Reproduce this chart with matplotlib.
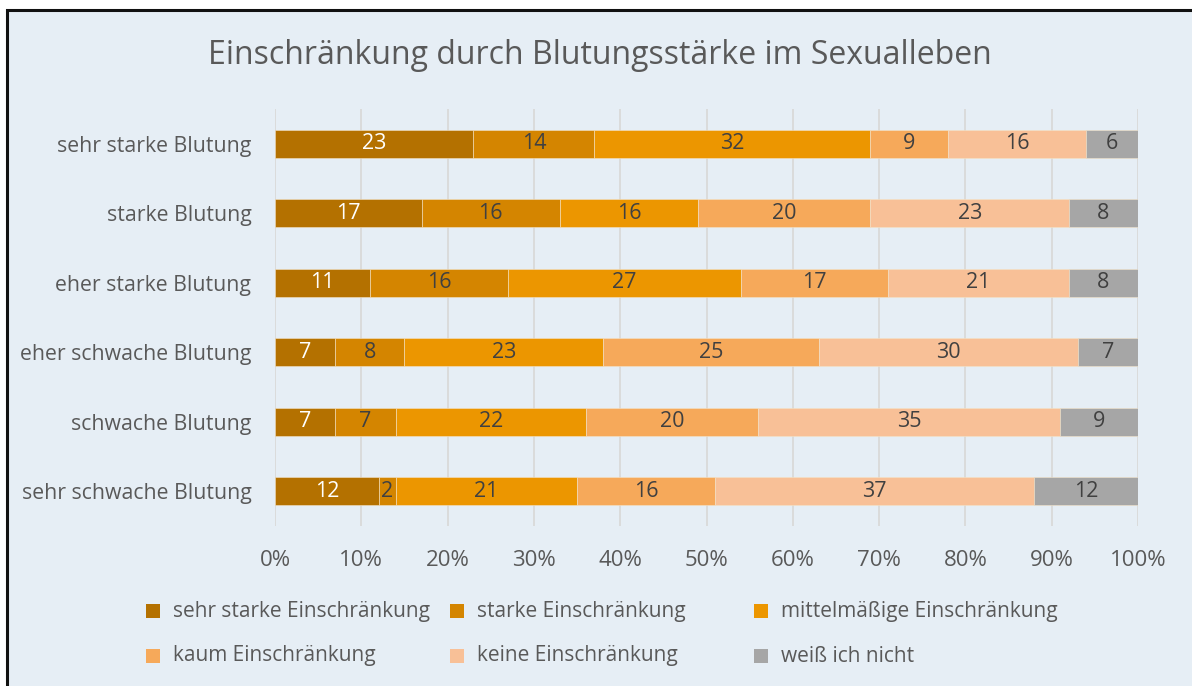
import matplotlib.pyplot as plt
from matplotlib.patches import Rectangle

plt.rcParams['font.family'] = ['Open Sans', 'DejaVu Sans']

# Daten
kategorien = ['sehr starke Blutung', 'starke Blutung', 'eher starke Blutung',
              'eher schwache Blutung', 'schwache Blutung', 'sehr schwache Blutung']
serien = ['sehr starke Einschränkung', 'starke Einschränkung', 'mittelmäßige Einschränkung',
          'kaum Einschränkung', 'keine Einschränkung', 'weiß ich nicht']
sehr_stark = [23, 17, 11, 7, 7, 12]
stark = [14, 16, 16, 8, 7, 2]
mittel = [32, 16, 27, 23, 22, 21]
kaum = [9, 20, 17, 25, 20, 16]
keine = [16, 23, 21, 30, 35, 37]
weiss_nicht = [6, 8, 8, 7, 9, 12]
x_ticks = [0, 10, 20, 30, 40, 50, 60, 70, 80, 90, 100]

werte = [sehr_stark, stark, mittel, kaum, keine, weiss_nicht]
farben = ['#B47100', '#D48500', '#EC9600', '#F6A95A', '#F8C097', '#A6A6A6']
textfarben = ['white', '#404040', '#404040', '#404040', '#404040', '#404040']
bg = '#E6EEF5'

fig = plt.figure(figsize=(11.92, 6.86), dpi=100, facecolor='white')
fig.patches.append(Rectangle((7 / 1192, -0.05), 1.1, 1 - 10 / 686 + 0.05,
                             transform=fig.transFigure, facecolor=bg,
                             edgecolor='#111111', linewidth=2.2, zorder=-10))

ax = fig.add_axes([275 / 1192, 1 - 526 / 686, 863 / 1192, (526 - 109) / 686])
ax.set_facecolor(bg)
ax.patch.set_alpha(0)

y = list(range(len(kategorien)))
links = [0] * len(kategorien)
for i, (vals, name) in enumerate(zip(werte, serien)):
    bars = ax.barh(y, vals, left=links, height=0.4, color=farben[i], label=name,
                   edgecolor='#F3E3C8', linewidth=0.4, zorder=3)
    ax.bar_label(bars, labels=[str(v) for v in vals], label_type='center',
                 color=textfarben[i], fontsize=15.5)
    links = [a + b for a, b in zip(links, vals)]

ax.set_xlim(0, 100)
ax.set_ylim(len(kategorien) - 0.5, -0.5)
ax.set_yticks(y)
ax.set_yticklabels(kategorien, fontsize=15.3, color='#595959')
ax.set_xticks(x_ticks)
ax.set_xticklabels([f'{t}%' for t in x_ticks], fontsize=16, color='#595959')
ax.tick_params(axis='x', length=0, pad=17)
ax.tick_params(axis='y', length=0, pad=17)
ax.grid(axis='x', color='#D9D9D9', linewidth=1.3, zorder=0)
for s in ax.spines.values():
    s.set_visible(False)

fig.text(600 / 1192, 1 - 55 / 686, 'Einschränkung durch Blutungsstärke im Sexualleben',
         ha='center', va='center', fontsize=23, color='#595959')

# Legende
leg_x = [153, 457, 761]
leg_y = [611, 656]
for i, name in enumerate(serien):
    cx = leg_x[i % 3]
    cy = leg_y[i // 3]
    fig.patches.append(Rectangle(((cx - 7) / 1192, 1 - (cy + 7) / 686), 14 / 1192, 14 / 686,
                                 transform=fig.transFigure, facecolor=farben[i],
                                 edgecolor='none'))
    fig.text((cx + 20) / 1192, 1 - cy / 686, name, ha='left', va='center',
             fontsize=15, color='#595959')

fig.savefig('out.png', dpi=100, facecolor='white')
